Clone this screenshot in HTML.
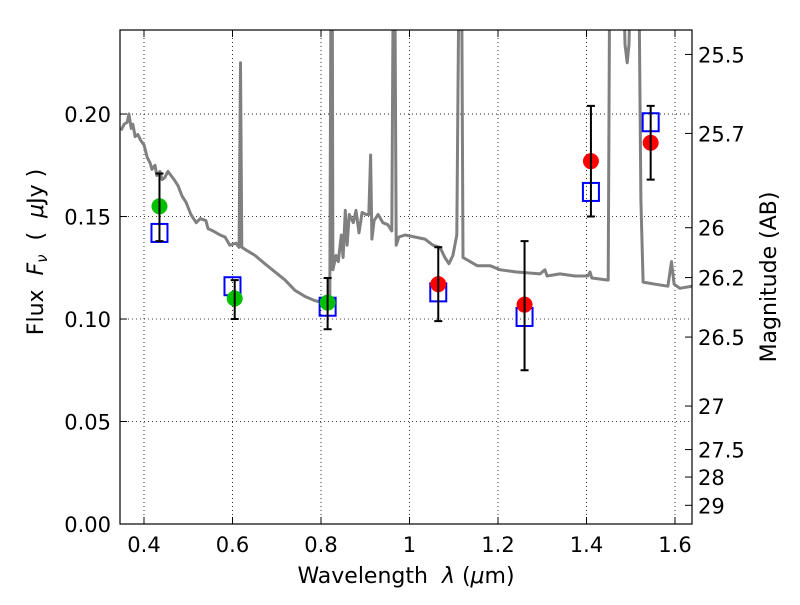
<!DOCTYPE html>
<html><head><meta charset="utf-8"><style>
body{margin:0;background:#fff}
svg text{font-family:"DejaVu Sans","Liberation Sans",sans-serif;fill:#000;white-space:pre}
</style></head><body>
<svg id="chart" width="800" height="600" xmlns="http://www.w3.org/2000/svg">
<defs><clipPath id="pc"><rect x="120" y="30" width="572" height="494"/></clipPath></defs>
<rect width="800" height="600" fill="#fff"/>
<g id="grid"></g>
<g id="spec" clip-path="url(#pc)"></g>
<g id="marks" clip-path="url(#pc)"></g>
<rect x="120" y="30" width="572" height="494" fill="none" stroke="#000" stroke-width="1.2"/>
<g id="axes"></g>
<text x="406" y="583" font-size="22" text-anchor="middle">Wavelength  <tspan font-style="italic">λ</tspan> (<tspan font-style="italic">μ</tspan>m)</text>
<text transform="translate(43,252) rotate(-90)" font-size="22" text-anchor="middle">Flux  <tspan font-style="italic">F</tspan><tspan font-style="italic" font-size="15" dy="4">ν</tspan><tspan dy="-4">  (  </tspan><tspan font-style="italic">μ</tspan>Jy )</text>
<text transform="translate(776,277) rotate(-90)" font-size="22" text-anchor="middle">Magnitude (AB)</text>
</svg>
<script>
const specLam=[0.348,0.355,0.362,0.366,0.371,0.375,0.380,0.386,0.393,0.400,0.407,0.414,0.418,0.425,0.429,0.436,0.441,0.447,0.454,0.461,0.468,0.477,0.486,0.495,0.506,0.518,0.527,0.540,0.545,0.556,0.572,0.583,0.594,0.608,0.615,0.618,0.621,0.628,0.651,0.673,0.696,0.719,0.741,0.764,0.786,0.802,0.816,0.820,0.823,0.825,0.827,0.834,0.839,0.846,0.850,0.855,0.859,0.864,0.873,0.879,0.886,0.893,0.902,0.908,0.912,0.915,0.920,0.929,0.940,0.951,0.960,0.964,0.966,0.970,0.976,0.990,1.012,1.035,1.053,1.069,1.080,1.089,1.098,1.107,1.113,1.117,1.121,1.137,1.153,1.182,1.205,1.239,1.295,1.306,1.311,1.340,1.374,1.403,1.408,1.412,1.449,1.453,1.480,1.487,1.492,1.496,1.503,1.517,1.523,1.528,1.555,1.584,1.592,1.598,1.611,1.638];
const specFlux=[0.192,0.195,0.196,0.200,0.193,0.195,0.189,0.190,0.187,0.185,0.179,0.176,0.173,0.175,0.170,0.172,0.168,0.169,0.172,0.170,0.168,0.165,0.160,0.157,0.151,0.147,0.149,0.148,0.144,0.143,0.141,0.140,0.136,0.137,0.135,0.225,0.135,0.134,0.131,0.127,0.123,0.119,0.114,0.111,0.109,0.108,0.107,0.109,0.30,0.30,0.124,0.131,0.128,0.141,0.130,0.153,0.136,0.151,0.147,0.153,0.142,0.152,0.151,0.151,0.180,0.139,0.148,0.151,0.147,0.146,0.143,0.30,0.30,0.136,0.140,0.141,0.140,0.139,0.136,0.135,0.130,0.127,0.131,0.141,0.30,0.30,0.130,0.128,0.126,0.126,0.124,0.123,0.122,0.124,0.121,0.122,0.121,0.121,0.123,0.120,0.119,0.30,0.30,0.234,0.225,0.234,0.30,0.30,0.158,0.118,0.117,0.116,0.128,0.117,0.115,0.116];
const obsLam=[0.435,0.605,0.815,1.065,1.26,1.41,1.545];
const obsFlux=[0.155,0.110,0.108,0.117,0.107,0.177,0.186];
const obsColor=['#00c000','#00c000','#00c000','red','red','red','red'];
const errLow=[0.138,0.100,0.095,0.099,0.075,0.150,0.168];
const errHigh=[0.171,0.119,0.120,0.135,0.138,0.204,0.204];
const modLam=[0.435,0.600,0.815,1.065,1.26,1.41,1.545];
const modFlux=[0.142,0.116,0.106,0.113,0.101,0.162,0.196];
const xTicks=[0.4,0.6,0.8,1.0,1.2,1.4,1.6];
const xTickLabels=['0.4','0.6','0.8','1','1.2','1.4','1.6'];
const yTicks=[0,0.05,0.10,0.15,0.20];
const yTickLabels=['0.00','0.05','0.10','0.15','0.20'];
const magTicks=[25.5,25.7,26,26.2,26.5,27,27.5,28,29];
const magLabels=['25.5','25.7','26','26.2','26.5','27','27.5','28','29'];

const X0=0.3458,X1=1.6384,Y0=0,Y1=0.241,L=120,R=692,T=30,B=524;
const sx=v=>L+(v-X0)/(X1-X0)*(R-L);
const sy=v=>B-(v-Y0)/(Y1-Y0)*(B-T);
const NS='http://www.w3.org/2000/svg';
function mk(tag,attrs,parent){const e=document.createElementNS(NS,tag);for(const k in attrs)e.setAttribute(k,attrs[k]);parent.appendChild(e);return e;}
const grid=document.getElementById('grid'),spec=document.getElementById('spec'),marks=document.getElementById('marks'),axes=document.getElementById('axes');

xTicks.forEach((v,i)=>{
  const g=mk('line',{x1:sx(v),x2:sx(v),y1:T,y2:B,stroke:'#000','stroke-width':0.8,'stroke-dasharray':'1,3'},grid);
  
  
  const t1=mk('line',{x1:sx(v),x2:sx(v),y1:B,y2:B-7,stroke:'#000'},axes);
  
  
  const t2=mk('line',{x1:sx(v),x2:sx(v),y1:T,y2:T+7,stroke:'#000'},axes);
  
  
  const tl=mk('text',{x:sx(v),y:B+28,'font-size':21,'text-anchor':'middle'},axes);
  tl.textContent=xTickLabels[i];
  
  
});
yTicks.forEach((v,i)=>{
  if(v>0){const g=mk('line',{x1:L,x2:R,y1:sy(v),y2:sy(v),stroke:'#000','stroke-width':0.8,'stroke-dasharray':'1,3'},grid);
  
  }
  const t=mk('line',{x1:L,x2:L+7,y1:sy(v),y2:sy(v),stroke:'#000'},axes);
  
  
  const tl=mk('text',{x:L-9,y:sy(v)+8,'font-size':21,'text-anchor':'end'},axes);
  tl.textContent=yTickLabels[i];
  
  
});
magTicks.forEach((m,i)=>{
  const f=Math.pow(10,(23.9-m)/2.5);
  const t=mk('line',{x1:R,x2:R-7,y1:sy(f),y2:sy(f),stroke:'#000'},axes);
  
  
  const tl=mk('text',{x:R+6,y:sy(f)+8,'font-size':21},axes);
  tl.textContent=magLabels[i];
  
  
});
const p=mk('polyline',{points:specLam.map((l,i)=>sx(l).toFixed(1)+','+sy(specFlux[i]).toFixed(1)).join(' '),fill:'none',stroke:'#808080','stroke-width':3,'stroke-linejoin':'round'},spec);


modLam.forEach((l,i)=>{
  const r=mk('rect',{x:sx(l)-8,y:sy(modFlux[i])-9,width:16,height:18,fill:'none',stroke:'#0000ff','stroke-width':2},marks);
  
  
});
obsLam.forEach((l,i)=>{
  const c=mk('circle',{cx:sx(l),cy:sy(obsFlux[i]),r:8,fill:obsColor[i]},marks);
  
  
});
obsLam.forEach((l,i)=>{
  const x=sx(l),y1=sy(errLow[i]),y2=sy(errHigh[i]);
  const e=mk('path',{d:`M${x},${y1}V${y2}M${x-4},${y1}H${x+4}M${x-4},${y2}H${x+4}`,stroke:'#000','stroke-width':2,fill:'none'},marks);
  
  
});
</script>
</body></html>
